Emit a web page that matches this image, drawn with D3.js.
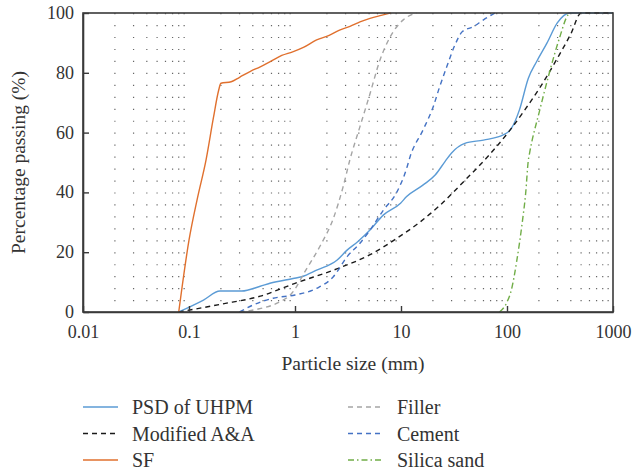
<!DOCTYPE html>
<html>
<head>
<meta charset="utf-8">
<script src="https://cdn.jsdelivr.net/npm/d3@7"></script>
<style>
  body { margin: 0; background: #fff; }
</style>
</head>
<body>
<div id="chart"></div>
<script>
// particle size (mm) / percentage passing (%) pairs
const psdUHPM = [[0.08,0],[0.137,4],[0.196,7],[0.314,7],[0.47,8.6],[0.58,9.6],[0.96,11.2],[1.16,11.8],[1.6,14],[2.5,17.4],[3.1,20.7],[3.9,23.5],[5.1,27.4],[6.8,32.4],[9.9,36.4],[11.3,38.6],[16.2,42.5],[21,45.8],[26,50.3],[30,53.2],[40,56.4],[60,57.5],[92,59.2],[110,61.4],[131,67.6],[159,78.2],[190,83.7],[238,89.9],[297,96.6],[393,100],[1000,100]];
const modifiedAA = [[0.08,0],[0.2,2.6],[0.47,5.3],[1,9.6],[2.6,14.7],[5,19],[9.1,24.6],[15,30],[23,35.5],[40,44],[64,51.5],[105,60.5],[150,68],[204,75],[300,85],[400,93],[500,100],[1000,100]];
const sf = [[0.08,0],[0.1,24],[0.12,38],[0.145,51],[0.17,65],[0.19,74],[0.2,76.5],[0.25,77],[0.3,78.5],[0.38,80.5],[0.47,82],[0.6,84],[0.75,85.8],[0.95,87],[1.2,88.5],[1.6,91],[2.1,92.5],[2.6,94.2],[3.3,95.5],[4.1,97],[5.1,98.2],[6.5,99.2],[8,100]];
const filler = [[0.3,0],[0.45,1],[0.67,2.9],[0.96,6.8],[1.24,13.5],[1.72,22],[2.3,31.3],[2.85,42],[3.3,51],[4.1,62],[5.1,73],[6.3,84],[7.9,92],[10.5,97.7],[14,100]];
const cement = [[0.3,0],[0.4,2.3],[0.62,4.6],[1,5.7],[1.6,7.9],[2.3,11.8],[3.1,18.5],[4.1,23],[5.1,27.4],[6.8,34],[9.1,40],[11.3,48],[12.2,52],[16.2,61],[20.3,69],[23,75],[27,82],[32,89],[38,93.8],[48,95.4],[60,97.7],[77,100]];
const silicaSand = [[85,0],[99,3],[110,7.4],[124,17.4],[139,29.7],[150,39.7],[159,50.8],[163,53],[204,67.6],[251,80],[315,92],[375,99.3],[400,100]];

const xTicks = [0.01, 0.1, 1, 10, 100, 1000];
const yTicks = [0, 20, 40, 60, 80, 100];

const series = [
  { name: "PSD of UHPM", data: psdUHPM, color: "#5b9bd5", dash: null },
  { name: "Modified A&A", data: modifiedAA, color: "#1a1a1a", dash: "5,4" },
  { name: "SF", data: sf, color: "#e0702e", dash: null },
  { name: "Filler", data: filler, color: "#a5a5a5", dash: "5,4" },
  { name: "Cement", data: cement, color: "#4472c4", dash: "5,4" },
  { name: "Silica sand", data: silicaSand, color: "#70ad47", dash: "6,3,1.5,3" }
];

const FONT = "'Liberation Serif', serif";

const svg = d3.select("#chart").append("svg")
    .attr("width", 634)
    .attr("height", 474);

const margin = { top: 13, left: 83 },
    width = 530,
    height = 299;

const x = d3.scaleLog().domain([0.01, 1000]).range([0, width]);
const y = d3.scaleLinear().domain([0, 100]).range([height, 0]);

const g = svg.append("g").attr("transform", `translate(${margin.left},${margin.top})`);

// dotted minor grid
const minor = [];
xTicks.slice(0, -1).forEach(d => { for (let k = 2; k <= 9; k++) minor.push(d * k); });
g.selectAll(".grid").data(minor).enter().append("line")
    .attr("x1", d => x(d)).attr("x2", d => x(d))
    .attr("y1", y(100)).attr("y2", y(0))
    .attr("stroke", "#666")
    .attr("stroke-width", 1.2)
    .attr("stroke-dasharray", `1.2,${y(0) - y(4) - 1.2}`);

const line = d3.line()
    .x(d => x(d[0]))
    .y(d => y(d[1]))
    .curve(d3.curveMonotoneX);

series.forEach(s => {
    g.append("path")
        .datum(s.data)
        .attr("fill", "none")
        .attr("stroke", s.color)
        .attr("stroke-width", 1.4)
        .attr("stroke-dasharray", s.dash)
        .attr("d", line);
});

// frame
g.append("rect")
    .attr("width", width).attr("height", height)
    .attr("fill", "none").attr("stroke", "#3a3a3a").attr("stroke-width", 1.6);

const xAxis = g.append("g")
    .attr("transform", `translate(0,${height})`)
    .call(d3.axisBottom(x).tickValues(xTicks).tickFormat(d => String(d)).tickSizeInner(-6).tickSizeOuter(0).tickPadding(13));
const yAxis = g.append("g")
    .call(d3.axisLeft(y).tickValues(yTicks).tickSizeInner(-6).tickSizeOuter(0).tickPadding(9));
[xAxis, yAxis].forEach(a => {
    a.attr("font-family", FONT).attr("font-size", 18);
    a.select(".domain").attr("stroke", "#3a3a3a").attr("stroke-width", 1.6);
    a.selectAll(".tick line").attr("stroke", "#3a3a3a").attr("stroke-width", 1.4);
    a.selectAll(".tick text").attr("fill", "#333");
});
yAxis.selectAll(".tick text").attr("dy", "0.3em");

svg.append("text")
    .attr("x", margin.left + width / 2 + 5).attr("y", 370)
    .attr("text-anchor", "middle")
    .attr("font-size", 19.5)
    .text("Particle size (mm)");

svg.append("text")
    .attr("transform", `translate(25,${margin.top + height / 2}) rotate(-90)`)
    .attr("text-anchor", "middle")
    .attr("font-size", 19.5)
    .text("Percentage passing (%)");

// legend
const legend = svg.append("g");
series.forEach((s, i) => {
    const col = Math.floor(i / 3), row = i % 3;
    const lx = 83 + col * 265, ly = 407 + row * 26.5;
    legend.append("line")
        .attr("x1", lx).attr("x2", lx + 35)
        .attr("y1", ly).attr("y2", ly)
        .attr("stroke", s.color)
        .attr("stroke-width", 1.4)
        .attr("stroke-dasharray", s.dash);
    legend.append("text")
        .attr("x", lx + 49).attr("y", ly)
        .attr("dy", "0.35em")
        .attr("font-size", 20)
        .text(s.name);
});

svg.selectAll("text").attr("font-family", FONT).attr("fill", "#333");
</script>
</body>
</html>
